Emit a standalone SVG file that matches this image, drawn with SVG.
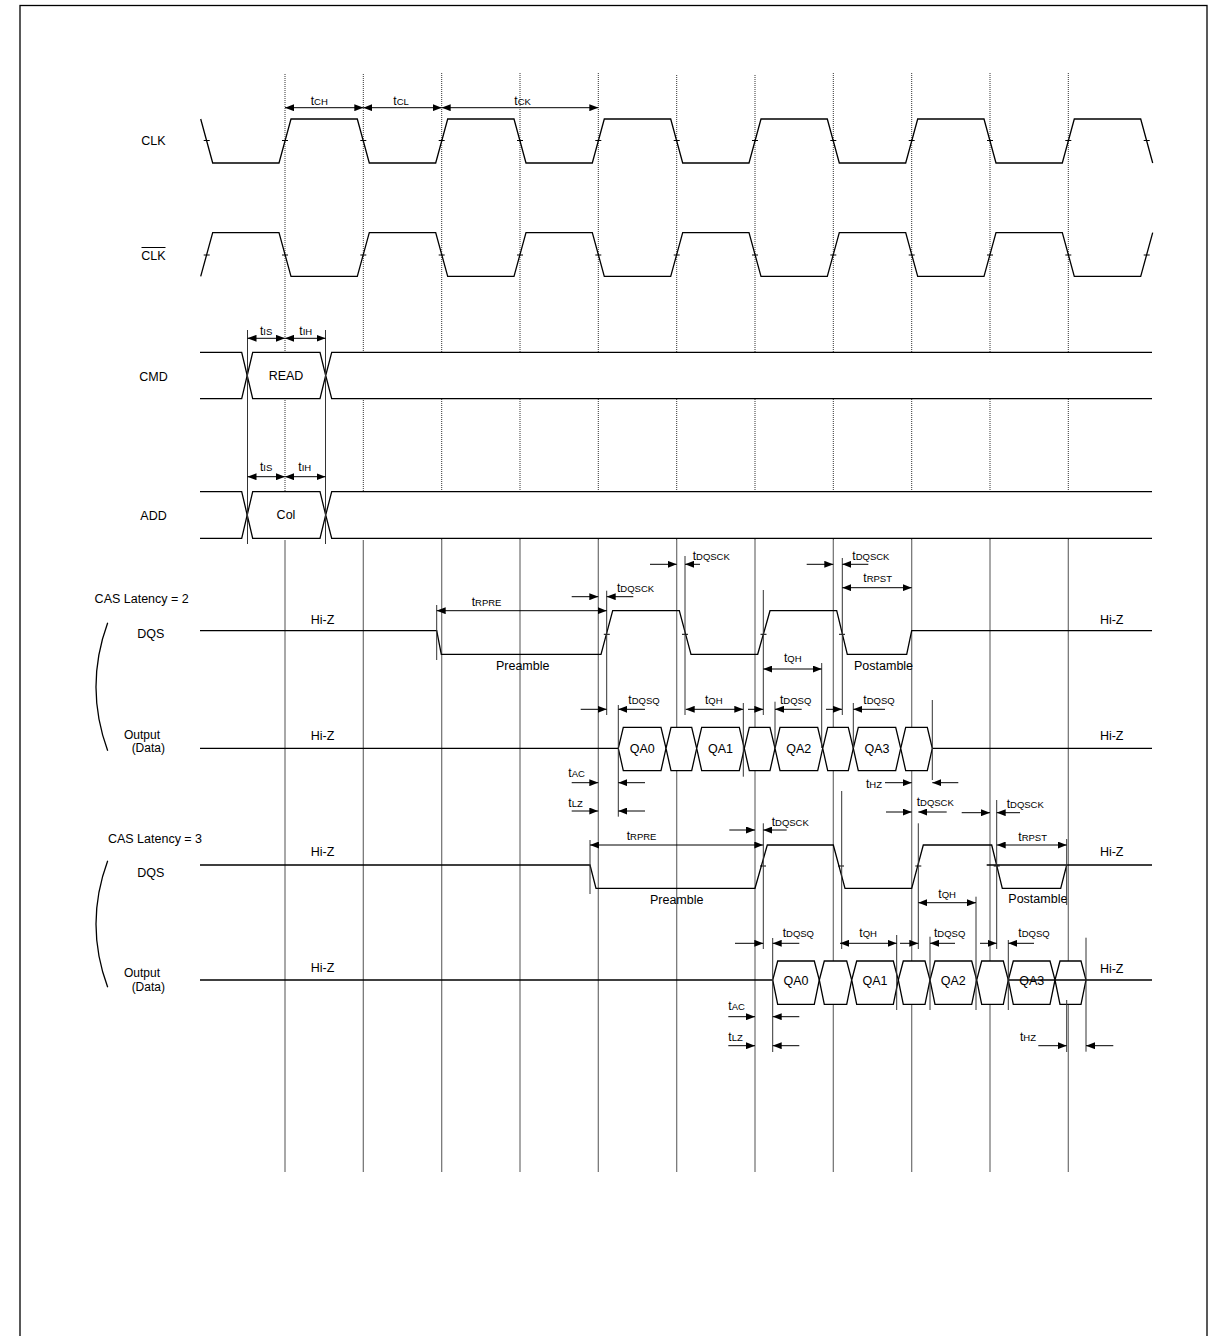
<svg xmlns="http://www.w3.org/2000/svg" width="1213" height="1336" viewBox="0 0 1213 1336">
<style>
text{font-family:"Liberation Sans",Arial,sans-serif;fill:#000}
.lb{font-size:12.5px}
.sm{font-size:12px}
.t{font-size:12px}
.s{font-size:9.5px}
.w{fill:none;stroke:#000;stroke-width:1.3}
.bx{fill:#fff;stroke:#000;stroke-width:1.3}
.gd{stroke:#333;stroke-width:1;stroke-dasharray:1 1}
.gs{stroke:#6e6e6e;stroke-width:1.2}
.rf{stroke:#333;stroke-width:1}
.tk{stroke:#000;stroke-width:1}
.a1{stroke:#000;stroke-width:1;marker-end:url(#ah)}
.a2{stroke:#000;stroke-width:1;marker-start:url(#ah);marker-end:url(#ah)}
</style>
<defs>
<marker id="ah" viewBox="0 0 9 7" refX="9" refY="3.5" markerWidth="9" markerHeight="7" markerUnits="userSpaceOnUse" orient="auto-start-reverse"><path d="M0,0 L9,3.5 L0,7 z" fill="#000"/></marker>
</defs>
<rect x="0" y="0" width="1213" height="1336" fill="#fff"/>
<rect x="20" y="5.5" width="1187" height="1400" fill="none" stroke="#000" stroke-width="1.3"/>

<g id="grid">
<g class="gd">
<line x1="285" y1="74" x2="285" y2="540"/><line x1="363.3" y1="74" x2="363.3" y2="540"/><line x1="441.7" y1="73" x2="441.7" y2="540"/><line x1="520" y1="73" x2="520" y2="540"/><line x1="598.3" y1="73" x2="598.3" y2="540"/><line x1="676.7" y1="75" x2="676.7" y2="540"/><line x1="755" y1="75" x2="755" y2="540"/><line x1="833.3" y1="73" x2="833.3" y2="540"/><line x1="911.7" y1="73" x2="911.7" y2="540"/><line x1="990" y1="73" x2="990" y2="540"/><line x1="1068.3" y1="73" x2="1068.3" y2="540"/>
</g>
<g class="gs">
<line x1="285" y1="540" x2="285" y2="1172"/><line x1="363.3" y1="540" x2="363.3" y2="1172"/><line x1="441.7" y1="540" x2="441.7" y2="1172"/><line x1="520" y1="540" x2="520" y2="1172"/><line x1="598.3" y1="540" x2="598.3" y2="1172"/><line x1="676.7" y1="540" x2="676.7" y2="1172"/><line x1="755" y1="540" x2="755" y2="1172"/><line x1="833.3" y1="540" x2="833.3" y2="1172"/><line x1="911.7" y1="540" x2="911.7" y2="1172"/><line x1="990" y1="540" x2="990" y2="1172"/><line x1="1068.3" y1="540" x2="1068.3" y2="1172"/>
</g>
</g>

<g id="clk">
<text class="lb" x="153.5" y="145" text-anchor="middle">CLK</text>
<path class="w" d="M200.7,119 L212.7,163 L279,163 L291,119 L357.3,119 L369.3,163 L435.7,163 L447.7,119 L514,119 L526,163 L592.3,163 L604.3,119 L670.7,119 L682.7,163 L749,163 L761,119 L827.3,119 L839.3,163 L905.7,163 L917.7,119 L984,119 L996,163 L1062.3,163 L1074.3,119 L1140.7,119 L1152.7,163"/>
<path class="tk" d="M203.7,140.5h6M282,140.5h6M360.3,140.5h6M438.7,140.5h6M517,140.5h6M595.3,140.5h6M673.7,140.5h6M752,140.5h6M830.3,140.5h6M908.7,140.5h6M987,140.5h6M1065.3,140.5h6M1143.7,140.5h6"/>
</g>

<g id="clkbar">
<text class="lb" x="153.5" y="259.5" text-anchor="middle">CLK</text>
<line x1="141.5" y1="247.5" x2="165.5" y2="247.5" stroke="#000" stroke-width="1"/>
<path class="w" d="M200.7,276.3 L212.7,232.7 L279,232.7 L291,276.3 L357.3,276.3 L369.3,232.7 L435.7,232.7 L447.7,276.3 L514,276.3 L526,232.7 L592.3,232.7 L604.3,276.3 L670.7,276.3 L682.7,232.7 L749,232.7 L761,276.3 L827.3,276.3 L839.3,232.7 L905.7,232.7 L917.7,276.3 L984,276.3 L996,232.7 L1062.3,232.7 L1074.3,276.3 L1140.7,276.3 L1152.7,232.7"/>
<path class="tk" d="M203.7,255h6M282,255h6M360.3,255h6M438.7,255h6M517,255h6M595.3,255h6M673.7,255h6M752,255h6M830.3,255h6M908.7,255h6M987,255h6M1065.3,255h6M1143.7,255h6"/>
</g>

<g id="cmd">
<text class="lb" x="153.5" y="381" text-anchor="middle">CMD</text>
<path class="bx" d="M200,352.3 L241.7,352.3 L247.2,375.5 L241.7,398.7 L200,398.7" fill="none"/>
<path class="bx" d="M247.2,375.5 L252.7,352.3 L320,352.3 L325.7,375.5 L320,398.7 L252.7,398.7 Z"/>
<path class="bx" d="M1152,352.3 L331.7,352.3 L325.7,375.5 L331.7,398.7 L1152,398.7"/>
<text class="lb" x="286" y="379.5" text-anchor="middle">READ</text>
</g>

<g id="add">
<text class="lb" x="153.5" y="519.5" text-anchor="middle">ADD</text>
<path class="bx" d="M200,491.7 L241.7,491.7 L247.2,515 L241.7,538.3 L200,538.3" fill="none"/>
<path class="bx" d="M247.2,515 L252.7,491.7 L320,491.7 L325.7,515 L320,538.3 L252.7,538.3 Z"/>
<path class="bx" d="M1152,491.7 L331.7,491.7 L325.7,515 L331.7,538.3 L1152,538.3"/>
<text class="lb" x="286" y="518.5" text-anchor="middle">Col</text>
</g>

<g id="cas2-dqs">
<text class="lb" x="141.7" y="603.3" text-anchor="middle">CAS Latency = 2</text>
<text class="lb" x="150.7" y="637.7" text-anchor="middle">DQS</text>
<path class="w" d="M107.7,622.7 Q84.3,686.7 107.7,750.7"/>
<text class="lb" x="322.5" y="623.5" text-anchor="middle">Hi-Z</text>
<text class="lb" x="1111.7" y="624" text-anchor="middle">Hi-Z</text>
<path class="w" d="M200,630.7 L436.7,630.7 L441.3,654.3 L601,654.3 L612.7,610.7 L679.3,610.7 L691,654.3 L757.7,654.3 L770,610.7 L836.7,610.7 L847.3,654.3 L906.7,654.3 L911.7,630.7 L1152,630.7"/>
<path class="tk" d="M603.8,634.3h6M682,634.3h6M760.5,634.3h6M839,634.3h6"/>
<text class="lb" x="522.7" y="670" text-anchor="middle">Preamble</text>
<text class="lb" x="854" y="670">Postamble</text>
</g>

<g id="cas2-data">
<text class="sm" x="142" y="738.5" text-anchor="middle">Output</text>
<text class="sm" x="148.3" y="751.5" text-anchor="middle">(Data)</text>
<text class="lb" x="322.5" y="739.5" text-anchor="middle">Hi-Z</text>
<text class="lb" x="1111.7" y="740" text-anchor="middle">Hi-Z</text>
<line class="w" x1="200" y1="748.3" x2="618.3" y2="748.3"/>
<line class="w" x1="932.3" y1="748.3" x2="1152" y2="748.3"/>
<g class="bx">
<path d="M618.3,748.3 L623.3,727.3 L661,727.3 L666,748.3 L661,770.7 L623.3,770.7 Z"/>
<path d="M666,748.3 L671,727.3 L691.7,727.3 L696.7,748.3 L691.7,770.7 L671,770.7 Z"/>
<path d="M696.7,748.3 L701.7,727.3 L739.3,727.3 L744.3,748.3 L739.3,770.7 L701.7,770.7 Z"/>
<path d="M744.3,748.3 L749.3,727.3 L770,727.3 L775,748.3 L770,770.7 L749.3,770.7 Z"/>
<path d="M775,748.3 L780,727.3 L817.7,727.3 L822.7,748.3 L817.7,770.7 L780,770.7 Z"/>
<path d="M822.7,748.3 L827.7,727.3 L848.3,727.3 L853.3,748.3 L848.3,770.7 L827.7,770.7 Z"/>
<path d="M853.3,748.3 L858.3,727.3 L895.7,727.3 L900.7,748.3 L895.7,770.7 L858.3,770.7 Z"/>
<path d="M900.7,748.3 L905.7,727.3 L927.3,727.3 L932.3,748.3 L927.3,770.7 L905.7,770.7 Z"/>
</g>
<text class="lb" x="642.2" y="753" text-anchor="middle">QA0</text>
<text class="lb" x="720.5" y="753" text-anchor="middle">QA1</text>
<text class="lb" x="798.8" y="753" text-anchor="middle">QA2</text>
<text class="lb" x="877" y="753" text-anchor="middle">QA3</text>
</g>

<g id="cas3-dqs">
<text class="lb" x="155" y="842.7" text-anchor="middle">CAS Latency = 3</text>
<text class="lb" x="150.7" y="876.7" text-anchor="middle">DQS</text>
<path class="w" d="M107.7,860.7 Q84.3,924 107.7,987.3"/>
<text class="lb" x="322.5" y="856" text-anchor="middle">Hi-Z</text>
<text class="lb" x="1111.7" y="856" text-anchor="middle">Hi-Z</text>
<path class="w" d="M200,865 L590,865 L596,888.3 L755,888.3 L767.3,845 L833.3,845 L845,888.3 L911.7,888.3 L923.3,845 L991.7,845 L1002.3,888.3 L1060.7,888.3 L1066.7,865 L1152,865"/>
<line class="w" x1="986.7" y1="865" x2="1066.7" y2="865"/>
<path class="tk" d="M760,866h6M838,866h6M915.3,866h6M993.7,866h6"/>
<text class="lb" x="676.7" y="903.5" text-anchor="middle">Preamble</text>
<text class="lb" x="1008.3" y="903">Postamble</text>
</g>

<g id="cas3-data">
<text class="sm" x="142" y="977.3" text-anchor="middle">Output</text>
<text class="sm" x="148.3" y="990.5" text-anchor="middle">(Data)</text>
<text class="lb" x="322.5" y="972" text-anchor="middle">Hi-Z</text>
<text class="lb" x="1111.7" y="972.7" text-anchor="middle">Hi-Z</text>
<line class="w" x1="200" y1="980" x2="772.7" y2="980" stroke-width="1.8"/>
<g class="bx">
<path d="M772.7,980 L777.7,961 L814.3,961 L819.3,980 L814.3,1004.3 L777.7,1004.3 Z"/>
<path d="M819.3,980 L824.3,961 L846.7,961 L851.7,980 L846.7,1004.3 L824.3,1004.3 Z"/>
<path d="M851.7,980 L856.7,961 L893.3,961 L898.3,980 L893.3,1004.3 L856.7,1004.3 Z"/>
<path d="M898.3,980 L903.3,961 L925,961 L930,980 L925,1004.3 L903.3,1004.3 Z"/>
<path d="M930,980 L935,961 L971.7,961 L976.7,980 L971.7,1004.3 L935,1004.3 Z"/>
<path d="M976.7,980 L981.7,961 L1003.3,961 L1008.3,980 L1003.3,1004.3 L981.7,1004.3 Z"/>
<path d="M1008.3,980 L1013.3,961 L1050,961 L1055,980 L1050,1004.3 L1013.3,1004.3 Z"/>
<path d="M1055,980 L1060,961 L1081,961 L1086,980 L1081,1004.3 L1060,1004.3 Z"/>
</g>
<text class="lb" x="796" y="984.5" text-anchor="middle">QA0</text>
<text class="lb" x="875" y="984.5" text-anchor="middle">QA1</text>
<text class="lb" x="953.3" y="984.5" text-anchor="middle">QA2</text>
<text class="lb" x="1031.7" y="984.5" text-anchor="middle">QA3</text>
<line class="w" x1="1008.3" y1="980" x2="1152" y2="980"/>
</g>

<g id="connectors">
<g class="rf">
<line x1="247.5" y1="330" x2="247.5" y2="544"/>
<line x1="325.5" y1="330" x2="325.5" y2="544"/>
<line x1="436.7" y1="605" x2="436.7" y2="660"/>
<line x1="606.7" y1="590.7" x2="606.7" y2="715"/>
<line x1="685" y1="556" x2="685" y2="715"/>
<line x1="763.3" y1="590" x2="763.3" y2="715"/>
<line x1="842.3" y1="558" x2="842.3" y2="715"/>
<line x1="821.7" y1="663" x2="821.7" y2="748"/>
<line x1="618.3" y1="705" x2="618.3" y2="816.7"/>
<line x1="743.3" y1="703" x2="743.3" y2="776.7"/>
<line x1="775" y1="701.7" x2="775" y2="748"/>
<line x1="853.3" y1="703" x2="853.3" y2="748"/>
<line x1="932.3" y1="700" x2="932.3" y2="780"/>
<line x1="590" y1="840" x2="590" y2="894"/>
<line x1="763.3" y1="823.3" x2="763.3" y2="949"/>
<line x1="841.7" y1="791" x2="841.7" y2="949"/>
<line x1="918.3" y1="823.3" x2="918.3" y2="949"/>
<line x1="996.7" y1="800" x2="996.7" y2="949"/>
<line x1="1066.7" y1="839" x2="1066.7" y2="905"/>
<line x1="1066.7" y1="1000" x2="1066.7" y2="1052"/>
<line x1="976" y1="896.7" x2="976" y2="1010"/>
<line x1="772.7" y1="938" x2="772.7" y2="1052"/>
<line x1="896.7" y1="935" x2="896.7" y2="1010"/>
<line x1="930" y1="936.7" x2="930" y2="1010"/>
<line x1="1008.3" y1="940" x2="1008.3" y2="1010"/>
<line x1="1086" y1="937.7" x2="1086" y2="1051.7"/>
</g>
<line class="a2" x1="285" y1="107.7" x2="363.3" y2="107.7"/>
<line class="a2" x1="363.3" y1="107.7" x2="441.7" y2="107.7"/>
<line class="a2" x1="441.7" y1="107.7" x2="598.3" y2="107.7"/>
<line class="a2" x1="247.5" y1="338.3" x2="285" y2="338.3"/>
<line class="a2" x1="285" y1="338.3" x2="325.5" y2="338.3"/>
<line class="a2" x1="247.5" y1="476.7" x2="285" y2="476.7"/>
<line class="a2" x1="285" y1="476.7" x2="325.5" y2="476.7"/>
<line class="a2" x1="436.7" y1="610.7" x2="606.7" y2="610.7"/>
<line class="a1" x1="571.7" y1="596.7" x2="598.3" y2="596.7"/>
<line class="a1" x1="633.3" y1="596.7" x2="606.7" y2="596.7"/>
<line class="a1" x1="650" y1="564.3" x2="676.7" y2="564.3"/>
<line class="a1" x1="700" y1="564.3" x2="685" y2="564.3"/>
<line class="a1" x1="806.7" y1="564.3" x2="833.3" y2="564.3"/>
<line class="a1" x1="868.3" y1="564.3" x2="842.3" y2="564.3"/>
<line class="a2" x1="842.3" y1="587.7" x2="911.7" y2="587.7"/>
<line class="a2" x1="763.3" y1="669" x2="821.7" y2="669"/>
<line class="a1" x1="580.7" y1="709.3" x2="606.7" y2="709.3"/>
<line class="a1" x1="645" y1="709.3" x2="618.3" y2="709.3"/>
<line class="a2" x1="685.7" y1="709.3" x2="743.3" y2="709.3"/>
<line class="a1" x1="748" y1="709.3" x2="763.3" y2="709.3"/>
<line class="a1" x1="801.7" y1="709.3" x2="775" y2="709.3"/>
<line class="a1" x1="826" y1="709.3" x2="842" y2="709.3"/>
<line class="a1" x1="885" y1="709.3" x2="853.3" y2="709.3"/>
<line class="a1" x1="571.7" y1="782.7" x2="598.3" y2="782.7"/>
<line class="a1" x1="645" y1="782.7" x2="618.3" y2="782.7"/>
<line class="a1" x1="571.7" y1="811" x2="598.3" y2="811"/>
<line class="a1" x1="645" y1="811" x2="618.3" y2="811"/>
<line class="a1" x1="885" y1="782.7" x2="911.7" y2="782.7"/>
<line class="a1" x1="958.3" y1="782.7" x2="932.3" y2="782.7"/>
<line class="a1" x1="886" y1="812" x2="911.7" y2="812"/>
<line class="a1" x1="946.7" y1="812" x2="918.3" y2="812"/>
<line class="a1" x1="961.7" y1="812.7" x2="990" y2="812.7"/>
<line class="a1" x1="1020" y1="812.7" x2="996.7" y2="812.7"/>
<line class="a1" x1="729.3" y1="830" x2="755" y2="830"/>
<line class="a1" x1="786.7" y1="830" x2="763.3" y2="830"/>
<line class="a2" x1="590" y1="845" x2="763.3" y2="845"/>
<line class="a2" x1="996.7" y1="845" x2="1066.7" y2="845"/>
<line class="a2" x1="918.3" y1="902.7" x2="976" y2="902.7"/>
<line class="a1" x1="735" y1="943.3" x2="763.3" y2="943.3"/>
<line class="a1" x1="799.3" y1="943.3" x2="772.7" y2="943.3"/>
<line class="a2" x1="840" y1="943.3" x2="896.7" y2="943.3"/>
<line class="a1" x1="900" y1="943.3" x2="918.3" y2="943.3"/>
<line class="a1" x1="955" y1="943.3" x2="930" y2="943.3"/>
<line class="a1" x1="980" y1="943.3" x2="996.7" y2="943.3"/>
<line class="a1" x1="1034" y1="943.3" x2="1008.3" y2="943.3"/>
<line class="a1" x1="728.3" y1="1016.7" x2="755" y2="1016.7"/>
<line class="a1" x1="799.3" y1="1016.7" x2="772.7" y2="1016.7"/>
<line class="a1" x1="728.3" y1="1045.7" x2="755" y2="1045.7"/>
<line class="a1" x1="799.3" y1="1045.7" x2="772.7" y2="1045.7"/>
<line class="a1" x1="1038.3" y1="1045.7" x2="1066.7" y2="1045.7"/>
<line class="a1" x1="1113.3" y1="1045.7" x2="1086" y2="1045.7"/>
</g>

<g id="timing-labels">
<text class="t" x="310.7" y="105">t<tspan class="s">CH</tspan></text>
<text class="t" x="393.3" y="105">t<tspan class="s">CL</tspan></text>
<text class="t" x="514.3" y="105">t<tspan class="s">CK</tspan></text>
<text class="t" x="260" y="335">t<tspan class="s">IS</tspan></text>
<text class="t" x="299.3" y="335">t<tspan class="s">IH</tspan></text>
<text class="t" x="260" y="470.7">t<tspan class="s">IS</tspan></text>
<text class="t" x="298.3" y="470.7">t<tspan class="s">IH</tspan></text>
<text class="t" x="471.7" y="605.7">t<tspan class="s">RPRE</tspan></text>
<text class="t" x="617" y="592.3">t<tspan class="s">DQSCK</tspan></text>
<text class="t" x="692.7" y="560">t<tspan class="s">DQSCK</tspan></text>
<text class="t" x="852.3" y="560">t<tspan class="s">DQSCK</tspan></text>
<text class="t" x="863.3" y="582.3">t<tspan class="s">RPST</tspan></text>
<text class="t" x="784" y="662.3">t<tspan class="s">QH</tspan></text>
<text class="t" x="628.3" y="704">t<tspan class="s">DQSQ</tspan></text>
<text class="t" x="705" y="704">t<tspan class="s">QH</tspan></text>
<text class="t" x="780" y="704">t<tspan class="s">DQSQ</tspan></text>
<text class="t" x="863.3" y="704">t<tspan class="s">DQSQ</tspan></text>
<text class="t" x="568.3" y="777.3">t<tspan class="s">AC</tspan></text>
<text class="t" x="568.3" y="807.3">t<tspan class="s">LZ</tspan></text>
<text class="t" x="866" y="788.3">t<tspan class="s">HZ</tspan></text>
<text class="t" x="916.7" y="805.7">t<tspan class="s">DQSCK</tspan></text>
<text class="t" x="1006.7" y="808">t<tspan class="s">DQSCK</tspan></text>
<text class="t" x="771.7" y="826.3">t<tspan class="s">DQSCK</tspan></text>
<text class="t" x="626.7" y="840">t<tspan class="s">RPRE</tspan></text>
<text class="t" x="1018.3" y="840.7">t<tspan class="s">RPST</tspan></text>
<text class="t" x="938.3" y="898">t<tspan class="s">QH</tspan></text>
<text class="t" x="782.7" y="937">t<tspan class="s">DQSQ</tspan></text>
<text class="t" x="859.3" y="937">t<tspan class="s">QH</tspan></text>
<text class="t" x="934" y="937">t<tspan class="s">DQSQ</tspan></text>
<text class="t" x="1018.3" y="937">t<tspan class="s">DQSQ</tspan></text>
<text class="t" x="728.3" y="1010">t<tspan class="s">AC</tspan></text>
<text class="t" x="728.3" y="1040.7">t<tspan class="s">LZ</tspan></text>
<text class="t" x="1020" y="1040.7">t<tspan class="s">HZ</tspan></text>
</g>
</svg>
